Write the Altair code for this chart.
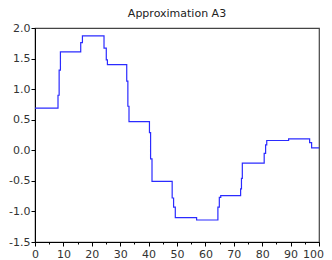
import altair as alt
import pandas as pd

xs = [0, 8.1, 8.5, 8.95, 16.1, 16.7, 24.3, 25.1, 25.5, 32.3, 32.7, 33.1,
      40.3, 40.7, 41.2, 48.3, 48.8, 49.4, 56.9, 64.4, 64.9, 65.4,
      72.4, 72.7, 73.0, 80.7, 81.2, 81.6, 89.3, 96.7, 97.4, 100]
ys = [0.69, 0.90, 1.31, 1.61, 1.76, 1.87, 1.67, 1.48, 1.40, 1.13, 0.72, 0.47,
      0.29, -0.14, -0.51, -0.78, -0.93, -1.10, -1.14, -0.93, -0.77, -0.74,
      -0.63, -0.46, -0.21, -0.05, 0.09, 0.16, 0.185, 0.126, 0.04, 0.04]
x_ticks = list(range(0, 101, 5))
y_ticks = [-1.5, -1.0, -0.5, 0.0, 0.5, 1.0, 1.5, 2.0]

df = pd.DataFrame({"x": xs, "y": ys})

font = "DejaVu Sans"

chart = alt.Chart(df).mark_line(
    interpolate="step-after", color="#2b2bff", strokeWidth=1.2
).encode(
    x=alt.X("x:Q", scale=alt.Scale(domain=[0, 100], nice=False, zero=False),
            axis=alt.Axis(values=x_ticks, title=None, grid=False,
                          labelExpr="datum.value % 10 === 0 ? datum.label : ''",
                          labelOverlap=False, labelFlush=False,
                          labelOffset={"condition": {"test": "datum.value === 100", "value": -6}, "value": 0},
                          tickSize={"condition": {"test": "datum.value % 10 === 0", "value": 4}, "value": 2},
                          labelPadding=2, labelFont=font, labelFontSize=11,
                          labelColor="#333333", domainColor="#000000",
                          tickColor="#000000")),
    y=alt.Y("y:Q", scale=alt.Scale(domain=[-1.5, 2.0], nice=False, zero=False),
            axis=alt.Axis(values=y_ticks, format=".1f", title=None, grid=False,
                          labelExpr="replace(datum.label, '\u2212', '-')",
                          tickSize=4, labelPadding=1, labelFont=font,
                          labelFontSize=11, labelColor="#333333",
                          labelOverlap=False, labelFlush=False,
                          domainColor="#000000", tickColor="#000000")),
).properties(
    width=284, height=214,
    title=alt.TitleParams("Approximation A3", font=font, fontSize=11,
                          fontWeight="normal", color="#222222", offset=3),
    autosize=alt.AutoSizeParams(type="none"),
    padding={"left": 27, "top": 20, "right": 5, "bottom": 20},
).configure_view(stroke="#444444", strokeWidth=1.2)

chart.save("out.html", embed_options={"renderer": "svg", "actions": False})
